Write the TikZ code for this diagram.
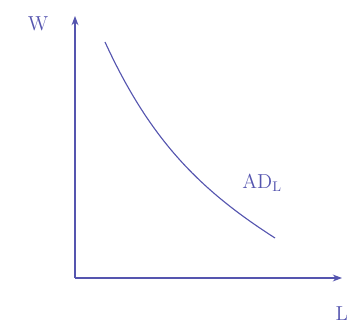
\documentclass[tikz,border=0pt]{standalone}
\usepackage{tikz}
\usetikzlibrary{arrows.meta,calc}

\definecolor{ink}{RGB}{85,85,175}

\begin{document}
\begin{tikzpicture}[x=0.025cm, y=-0.025cm, >=Stealth]

\useasboundingbox (0,0) rectangle (354,326);

\def\xO{75}
\def\yO{278}

\coordinate (O) at (\xO,\yO);
\coordinate (Wtop) at (\xO,16);
\coordinate (Lend) at (342,\yO);

% axes
\draw[->, thick, ink] (O) -- (Wtop);
\draw[->, thick, ink] (O) -- (Lend);

\node[ink, font=\Large] (W) at (38,24) {W};
\node[ink, font=\Large, anchor=east] (L) at (353,314) {L};

% demand curve
\draw[thick, ink] (105,42) .. controls (150,140) and (200,190) .. (275,238);

\node[ink, font=\Large] (ADL) at (262,183) {AD$_{\mathrm{L}}$};

\end{tikzpicture}
\end{document}
